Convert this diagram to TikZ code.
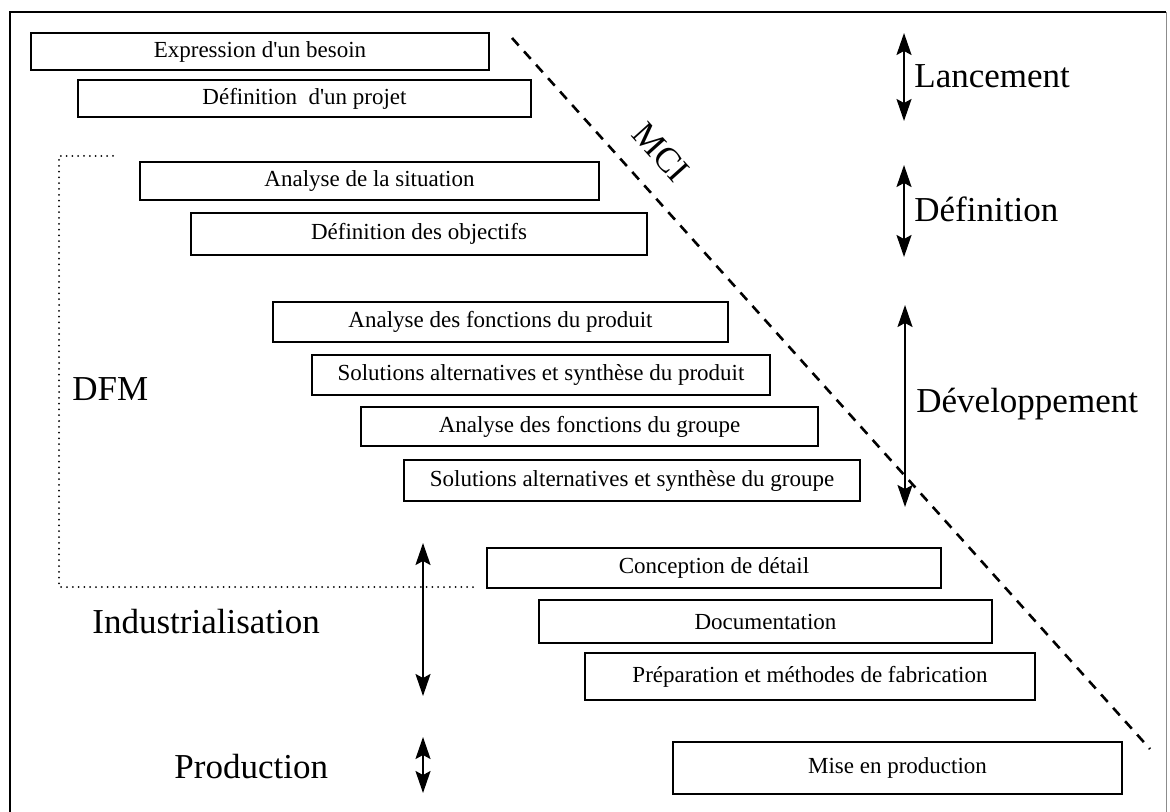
\documentclass[tikz,border=0pt]{standalone}
\usepackage{fontspec}
\setmainfont{Liberation Serif}[Ligatures=TeXOff]
\usetikzlibrary{arrows.meta}
\tikzset{
  px/.style={x=0.5pt,y=-0.5pt},
  stepbox/.style={draw=black,line width=1.1pt,inner sep=0pt,anchor=center,
    font=\fontsize{11.5}{13}\selectfont},
  phase/.style={inner sep=0pt,font=\fontsize{17.5}{20}\selectfont},
  darrow/.style={line width=1pt,{Stealth[length=11pt,width=7.5pt,inset=2pt]}-{Stealth[length=11pt,width=7.5pt,inset=2pt]}},
  mciline/.style={line width=1.3pt,dash pattern=on 5pt off 4pt},
  dfmline/.style={line width=1pt,line cap=round,dash pattern=on 0pt off 2.9pt},
  frameline/.style={line width=1.4pt,black},
}
\begin{document}
\begin{tikzpicture}[px]
\useasboundingbox (0,0) rectangle (1170,812);
% frame
\coordinate (fBL) at (10,830);
\coordinate (fTL) at (10,12);
\coordinate (fTR) at (1166,12);
\coordinate (fBR) at (1166,830);
\draw[frameline] (fBL) -- (fTL) -- (fTR);
\draw[line width=0.5pt,black!45] (fTR) -- (fBR);

% DFM dotted outline
\coordinate (d1) at (113,156);
\coordinate (d2) at (59,156);
\coordinate (d3) at (59,587);
\coordinate (d4) at (478,587);
\draw[dfmline] (d1) -- (d2) -- (d3) -- (d4);

% MCI dashed line
\coordinate (mciA) at (512,38);
\coordinate (mciB) at (1150,749);
\draw[mciline] (mciA) -- (mciB);
\node[phase,rotate=-48] (mci) at (661,152) {MCI};

% boxes
\node[stepbox,minimum width=229pt,minimum height=18.5pt] (b1) at (260,51.5) {Expression d'un besoin};
\node[stepbox,minimum width=226.5pt,minimum height=18.5pt] (b2) at (304.5,98.5) {Définition\ \ d'un projet};
\node[stepbox,minimum width=229.5pt,minimum height=19pt] (b3) at (369.5,181) {Analyse de la situation};
\node[stepbox,minimum width=228pt,minimum height=21pt] (b4) at (419,234) {Définition des objectifs};
\node[stepbox,minimum width=227.5pt,minimum height=20pt] (b5) at (500.5,322) {Analyse des fonctions du produit};
\node[stepbox,minimum width=229pt,minimum height=20pt] (b6) at (541,375) {Solutions alternatives et synthèse du produit};
\node[stepbox,minimum width=228.5pt,minimum height=19.5pt] (b7) at (589.5,426.5) {Analyse des fonctions du groupe};
\node[stepbox,minimum width=228pt,minimum height=20.5pt] (b8) at (632,480.5) {Solutions alternatives et synthèse du groupe};
\node[stepbox,minimum width=227pt,minimum height=20pt] (b9) at (714,568) {Conception de détail};
\node[stepbox,minimum width=226.5pt,minimum height=21.5pt] (b10) at (765.5,621.5) {Documentation};
\node[stepbox,minimum width=225pt,minimum height=23.5pt] (b11) at (810,676.5) {Préparation et méthodes de fabrication};
\node[stepbox,minimum width=224.5pt,minimum height=26pt] (b12) at (897.5,768) {Mise en production};

% phase arrows
\coordinate (lanT) at (904,33);   \coordinate (lanB) at (904,121);
\coordinate (defT) at (904,165);  \coordinate (defB) at (904,257);
\coordinate (devT) at (905,305);  \coordinate (devB) at (905,507);
\coordinate (indT) at (423,543);  \coordinate (indB) at (423,696);
\coordinate (proT) at (423,737);  \coordinate (proB) at (423,793);
\draw[darrow] (lanT) -- (lanB);
\draw[darrow] (defT) -- (defB);
\draw[darrow] (devT) -- (devB);
\draw[darrow] (indT) -- (indB);
\draw[darrow] (proT) -- (proB);

% phase labels
\node[phase,anchor=base west] (lan) at (914,88) {Lancement};
\node[phase,anchor=base west] (def) at (914,222) {Définition};
\node[phase,anchor=base west] (dev) at (916,412) {Développement};
\node[phase,anchor=base west] (ind) at (92,633) {Industrialisation};
\node[phase,anchor=base west] (pro) at (174,778) {Production};
\node[phase,anchor=base west] (dfm) at (72,400) {DFM};
\end{tikzpicture}
\end{document}
